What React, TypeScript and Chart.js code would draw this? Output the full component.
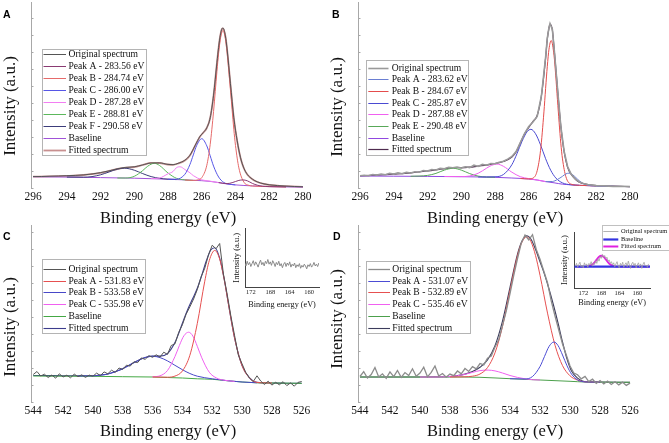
import React, { useEffect, useRef } from "react";
import { Chart, registerables } from "chart.js";
Chart.register(...registerables);

type Pt = [number, number];

const SERIF = "'Liberation Serif', 'Times New Roman', serif";
const SANS = "'Liberation Sans', Arial, sans-serif";

// ---------- tick labels ----------
const TICKS_C1S: number[] = [296, 294, 292, 290, 288, 286, 284, 282, 280];
const TICKS_O1S: number[] = [544, 542, 540, 538, 536, 534, 532, 530, 528, 526];
const TICKS_S2P: number[] = [172, 168, 164, 160];

// ---------- Panel A (C1s) ----------
const A_ORIGINAL: Pt[] = [[296,11.4],[295.5,11.5],[295,11.8],[294.5,12.0],[294,12.3],[293.5,12.6],[293,13.1],[292.5,14.0],[292,15.4],[291.5,17.1],[291,19.2],[290.5,20.6],[290,21.2],[289.5,23.1],[289,25.0],[288.5,25.1],[288,23.6],[287.7,23.3],[287.4,24.7],[287,27.8],[286.7,32.8],[286.4,42.3],[286.1,51.8],[285.9,55.6],[285.7,60.3],[285.5,70.2],[285.3,92.8],[285.1,125.3],[285.0,140.6],[284.9,152.7],[284.8,159.4],[284.74,160],[284.6,152.2],[284.5,139.2],[284.3,104.3],[284.1,70.4],[283.9,47.3],[283.7,30.2],[283.5,19.8],[283.3,13.6],[283,8.9],[282.7,6.1],[282.3,4.1],[282,3.2],[281.5,2.4],[281,1.9],[280.5,1.5],[280,1.2]];
const A_PEAK_A: Pt[] = [[285.0,5.4],[284.5,4.4],[284.2,5.3],[284.0,6.5],[283.8,7.6],[283.56,8.1],[283.3,7.2],[283.0,4.6],[282.7,2.8],[282.4,1.8],[282.0,1.4],[281.0,1.1]];
const A_PEAK_B: Pt[] = [[287.0,8.0],[286.5,7.6],[286.2,8.2],[286.0,10.3],[285.7,22.7],[285.5,43.5],[285.3,76.5],[285.1,116.6],[285.0,134.8],[284.9,148.5],[284.8,156.2],[284.74,157.4],[284.7,156.7],[284.6,149.8],[284.5,136.4],[284.3,98.3],[284.1,58.8],[284.0,42.6],[283.8,20.1],[283.5,5.8],[283.2,2.6],[283.0,2.0],[282.0,1.4],[281.0,1.1]];
const A_PEAK_C: Pt[] = [[288.0,8.7],[287.5,8.8],[287.0,13.7],[286.7,23.5],[286.5,33.1],[286.3,42.5],[286.0,49.3],[285.7,42.1],[285.5,32.2],[285.3,21.9],[285.0,11.0],[284.7,5.6],[284.5,4.2],[284.0,3.1]];
const A_PEAK_D: Pt[] = [[289.0,9.4],[288.5,10.0],[288.0,14.2],[287.7,16.5],[287.5,20.3],[287.28,21.2],[287.0,18.5],[286.7,15.2],[286.5,12.4],[286.0,8.2],[285.5,6.8],[285.0,5.4]];
const A_PEAK_E: Pt[] = [[291.0,10.0],[290.5,10.0],[290.0,11.7],[289.5,17.4],[289.2,21.8],[288.81,24.7],[288.5,22.5],[288.0,15.0],[287.5,9.7],[287.0,8.1],[286.5,7.6]];
const A_PEAK_F: Pt[] = [[294.0,10.9],[293.0,10.8],[292.5,11.4],[292.0,13.2],[291.5,16.0],[291.0,18.9],[290.58,19.8],[290.0,17.8],[289.5,14.4],[289.0,11.4],[288.5,9.7],[288.0,8.8],[287.5,8.4]];
const A_BASELINE: Pt[] = [[296,11.3],[294,10.9],[292,10.4],[290,9.8],[288,8.8],[287,8.1],[286,7.3],[285.5,6.6],[285,5.4],[284.5,4.0],[284,3.1],[283,2.1],[282,1.4],[280,1.0]];
const A_FITTED: Pt[] = [[296,11.3],[295,11.6],[294,12.1],[293,13.0],[292.5,14.0],[292,15.2],[291.5,17.0],[291,19.0],[290.5,20.4],[290,21.0],[289.5,23.0],[289,25.2],[288.5,25.0],[288,23.5],[287.7,23.2],[287.4,24.5],[287,27.5],[286.7,32.5],[286.4,42.0],[286.1,51.5],[285.9,55.5],[285.7,60],[285.5,70],[285.3,92.5],[285.1,125],[285,140.5],[284.9,152.5],[284.8,159],[284.74,159.5],[284.6,152],[284.5,139],[284.3,104],[284.1,70],[283.9,47],[283.7,30],[283.5,19.5],[283.3,13.5],[283,8.8],[282.7,6],[282.3,4],[282,3.1],[281,1.8],[280,1.2]];

// ---------- Panel B (C1s) ----------
const B_ORIGINAL: Pt[] = [[296,12.2],[295.75,12.8],[295.5,12.3],[295.25,13.5],[295,12.9],[294.75,14.0],[294.5,13.2],[294.25,14.6],[294,13.9],[293.75,15.1],[293.5,14.3],[293.25,15.6],[293,15.0],[292.75,16.3],[292.5,15.8],[292.25,17.4],[292,16.9],[291.75,18.5],[291.5,18.0],[291.25,19.6],[291,19.3],[290.75,20.8],[290.5,20.2],[290.25,21.0],[290,19.9],[289.75,21.2],[289.5,20.4],[289.25,22.8],[289,21.5],[288.75,23.6],[288.5,22.8],[288.25,24.4],[288,24.2],[287.75,25.8],[287.5,26.8],[287.25,28.9],[287,31.5],[286.75,36.4],[286.5,45.3],[286.25,54.5],[286,61.5],[285.75,66.0],[285.5,71.5],[285.25,92],[285.0,131],[284.9,150],[284.8,160.5],[284.74,164.5],[284.6,158.5],[284.5,140.5],[284.3,100.5],[284.1,62],[283.9,36.5],[283.7,21.5],[283.5,14.3],[283.25,9.2],[283.0,6.0],[282.75,4.6],[282.5,3.5],[282.25,3.0],[282,2.4],[281.5,2.1],[281,1.6],[280.5,1.7],[280,1.4]];
const B_PEAK_A: Pt[] = [[285.0,6.4],[284.6,6.5],[284.3,8.5],[284.0,11.7],[283.8,14.1],[283.62,14.8],[283.4,13.3],[283.2,10.3],[283.0,7.2],[282.7,3.9],[282.3,2.2],[282.0,2.0],[281.0,1.7]];
const B_PEAK_B: Pt[] = [[286.5,9.5],[286.0,9.1],[285.7,10.4],[285.5,17.3],[285.3,37.6],[285.1,76.1],[285.0,99.6],[284.9,121.7],[284.8,138.8],[284.67,147.5],[284.5,132.2],[284.4,112.2],[284.3,88.4],[284.1,44.8],[284.0,29.1],[283.8,11.3],[283.5,3.9],[283.0,2.7],[282.0,2.0]];
const B_PEAK_C: Pt[] = [[289.0,11.0],[288.0,11.2],[287.5,13.5],[287.0,23.3],[286.7,34.2],[286.4,46.6],[286.1,56.2],[285.87,58.7],[285.6,54.3],[285.3,43.1],[285.0,29.3],[284.7,17.8],[284.4,10.1],[284.0,5.1],[283.5,3.2],[283.0,2.7]];
const B_PEAK_D: Pt[] = [[291.0,11.5],[290.0,11.4],[289.5,12.0],[289.0,14.7],[288.5,19.8],[288.2,22.7],[287.88,23.9],[287.5,21.7],[287.0,15.8],[286.5,11.3],[286.0,9.4],[285.5,8.0],[285.0,6.4]];
const B_PEAK_E: Pt[] = [[293.0,11.7],[292.0,12.6],[291.5,14.6],[291.0,17.9],[290.48,19.7],[290.0,17.9],[289.5,14.4],[289.0,11.9],[288.5,10.9],[288.0,10.7]];
const B_BASELINE: Pt[] = [[296,12.0],[294,11.8],[292,11.6],[290,11.3],[288,10.7],[287,10.0],[286,9.0],[285.5,8.0],[285,6.4],[284.5,5.2],[284,3.8],[283.5,3.2],[283,2.7],[282,2.0],[280,1.4]];
const B_FITTED: Pt[] = [[296,12.0],[295,12.9],[294,13.9],[293,15.1],[292,17.0],[291,19.4],[290.5,20.3],[290,20.3],[289.5,20.8],[289,21.9],[288.5,22.9],[288,24.5],[287.5,26.5],[287,31.0],[286.75,36],[286.5,45],[286.25,54],[286,60.5],[285.75,66.5],[285.5,72.5],[285.25,92],[285.0,130],[284.9,149],[284.8,160],[284.74,164],[284.6,158],[284.5,140],[284.3,100],[284.1,62],[283.9,36],[283.7,21],[283.5,14],[283.2,8.2],[283.0,5.8],[282.5,3.4],[282,2.4],[281,1.8],[280,1.4]];

// ---------- Panel C (O1s) ----------
const C_ORIGINAL: Pt[] = [[544,27.5],[543.75,30.5],[543.5,26.0],[543.25,27.8],[543,24.5],[542.75,27.0],[542.5,23.8],[542.25,28.2],[542,25.0],[541.75,26.8],[541.5,24.2],[541.25,27.9],[541,25.3],[540.75,27.2],[540.5,24.6],[540.25,26.9],[540,25.8],[539.75,28.9],[539.5,26.4],[539.25,30.1],[539,28.2],[538.75,31.8],[538.5,29.5],[538.25,34.0],[538,32.6],[537.75,36.8],[537.5,35.9],[537.25,40.2],[537,39.4],[536.75,44.1],[536.5,42.6],[536.25,46.3],[536,44.7],[535.75,47.2],[535.5,44.9],[535.25,49.8],[535,47.6],[534.75,56.5],[534.5,58.1],[534.25,69.5],[534,77.2],[533.75,87.8],[533.5,95.1],[533.25,103.0],[533,112.5],[532.75,124.9],[532.5,133.8],[532.25,147.1],[532,156.8],[531.75,153.2],[531.5,158.5],[531.25,128.0],[531,108.0],[530.75,86.0],[530.5,66.4],[530.25,47.0],[530,38.2],[529.75,29.5],[529.5,24.0],[529.25,20.4],[529,26.2],[528.75,21.0],[528.5,17.5],[528.25,20.8],[528,16.9],[527.75,19.7],[527.5,17.2],[527.25,20.3],[527,16.4],[526.75,19.1],[526.5,15.8],[526.25,19.6],[526,20.5]];
const C_PEAK_A: Pt[] = [[536,25.0],[535,24.8],[534.5,25.9],[534,31.0],[533.5,46.7],[533,78.6],[532.5,120.8],[532.2,141.3],[531.83,151.6],[531.5,142.9],[531.2,122.8],[530.9,96.9],[530.5,63.9],[530,36.4],[529.5,24.1],[529,19.6],[528.5,19.2],[528,19.0]];
const C_PEAK_B: Pt[] = [[536,25.2],[535.5,26.2],[535,31.5],[534.5,45.4],[534.2,56.6],[533.9,66.2],[533.58,69.8],[533.3,66.0],[533,55.7],[532.7,44.2],[532.2,29.8],[531.7,23.9],[531.2,21.8],[530.5,20.6]];
const C_PEAK_C: Pt[] = [[541,26.0],[540,26.2],[539,28.0],[538,33.3],[537.5,37.3],[537,41.3],[536.5,44.4],[535.98,45.7],[535.5,44.4],[535,41.1],[534.5,36.7],[534,32.3],[533.5,28.5],[533,25.8],[532,23.2],[531,21.3],[530,20.0],[529,19.2]];
const C_BASELINE: Pt[] = [[544,26.0],[540,25.7],[538,25.3],[536,25.0],[535,24.5],[534,24.0],[533,23.2],[532,22.7],[531,21.3],[530,20.0],[529,19.2],[528,19.0],[526,18.7]];
const C_FITTED: Pt[] = [[544,26.5],[543,26.4],[542,26.3],[541,26.3],[540,26.2],[539.5,27.0],[539,28.0],[538.5,30.4],[538,33.3],[537.5,37.3],[537,41.3],[536.5,44.5],[536,45.9],[535.5,45.9],[535,48.4],[534.5,59.4],[534.2,70.5],[533.9,82.9],[533.6,94.0],[533.3,103.7],[533,113.7],[532.7,126.8],[532.4,141],[532.1,152],[531.83,154.3],[531.5,143.8],[531.2,123],[530.9,96.9],[530.5,63.9],[530,36.4],[529.5,24.1],[529,19.6],[528,19.0],[527,18.8],[526,18.7]];

// ---------- Panel D (O1s) ----------
const D_ORIGINAL: Pt[] = [[544,25.5],[543.75,30.3],[543.5,24.0],[543.25,27.5],[543,34.5],[542.75,25.0],[542.5,28.2],[542.25,23.7],[542,30.1],[541.75,25.3],[541.5,31.5],[541.25,24.6],[541,29.4],[540.75,26.5],[540.5,33.2],[540.25,25.8],[540,28.9],[539.75,34.8],[539.5,25.2],[539.25,29.6],[539,36.1],[538.75,26.0],[538.5,28.5],[538.25,24.9],[538,27.9],[537.75,26.4],[537.5,31.0],[537.25,28.2],[537,33.5],[536.75,30.6],[536.5,35.4],[536.25,33.2],[536,38.5],[535.75,37.1],[535.5,43.8],[535.25,45.9],[535,55.0],[534.75,62.3],[534.5,76.5],[534.25,91.0],[534,108.4],[533.75,126.7],[533.5,143.5],[533.25,158.8],[533,167.0],[532.75,162.2],[532.5,167.3],[532.25,152.6],[532,142.8],[531.75,131.0],[531.5,119.3],[531.25,101.0],[531,86.0],[530.75,72.0],[530.5,58.0],[530.25,47.0],[530,36.0],[529.75,29.0],[529.5,27.3],[529.25,23.1],[529,25.6],[528.75,20.4],[528.5,22.8],[528.25,18.6],[528,21.5],[527.75,18.0],[527.5,20.9],[527.25,17.5],[527,20.2],[526.75,17.1],[526.5,19.8],[526.25,16.6],[526,18.9]];
const D_PEAK_A: Pt[] = [[534,23.3],[533,23.0],[532.5,25.5],[532,35.5],[531.7,45.6],[531.4,55.5],[531.07,60.0],[530.8,56.5],[530.5,47.0],[530.2,36.2],[529.9,27.9],[529.5,22.2],[529,20.1],[528,19.9]];
const D_PEAK_B: Pt[] = [[538,25.0],[537,25.2],[536.5,25.8],[536,28.0],[535.5,34.4],[535,49.2],[534.5,75.6],[534,111.5],[533.5,146.3],[533.2,160.0],[532.89,165.1],[532.6,160.3],[532.3,146.6],[532,126.7],[531.5,88.9],[531,56.8],[530.5,36.4],[530,26.2],[529.5,21.9],[529,20.2],[528,19.9]];
const D_PEAK_C: Pt[] = [[540,25.0],[539,25.0],[538,25.5],[537.5,26.3],[537,27.7],[536.5,29.6],[536,31.4],[535.46,31.9],[535,31.1],[534.5,29.0],[534,26.5],[533.5,24.6],[533,23.2],[532.5,22.3],[532,22.0]];
const D_BASELINE: Pt[] = [[544,25.0],[538,25.0],[536,24.7],[534,23.3],[532,22.0],[530,20.7],[529,20.0],[526,19.7]];
const D_FITTED: Pt[] = [[544,25.0],[540,25.0],[539,25.1],[538,25.5],[537.5,26.4],[537,27.9],[536.5,30.5],[536,34.7],[535.5,42.1],[535,56.3],[534.5,80.9],[534,114.7],[533.5,147.9],[533.2,161],[532.89,166.3],[532.6,162.8],[532.3,152.7],[532,140.2],[531.7,127.7],[531.4,113],[531.07,95],[530.8,79],[530.5,60],[530.2,43],[529.9,31],[529.5,23.8],[529,20.3],[528,20.0],[526,19.7]];

// ---------- Insets (S2p) ----------
const C_INSET_ORIGINAL: Pt[] = [[173.25,41],[173,36],[172.75,44],[172.5,38],[172.25,42],[172,35],[171.75,40],[171.5,45],[171.25,37],[171,43],[170.75,39],[170.5,34],[170.25,41],[170,46],[169.75,38],[169.5,42],[169.25,36],[169,44],[168.75,40],[168.5,47],[168.25,39],[168,43],[167.75,37],[167.5,45],[167.25,41],[167,35],[166.75,42],[166.5,38],[166.25,44],[166,36],[165.75,40],[165.5,33],[165.25,39],[165,42],[164.75,35],[164.5,41],[164.25,37],[164,43],[163.75,34],[163.5,39],[163.25,36],[163,41],[162.75,33],[162.5,38],[162.25,35],[162,40],[161.75,32],[161.5,37],[161.25,34],[161,39],[160.75,36],[160.5,31],[160.25,38],[160,35],[159.75,40],[159.5,34],[159.25,37],[159,42],[158.75,36],[158.5,39],[158.25,35],[158,41]];
const D_INSET_ORIGINAL: Pt[] = [[173.75,39],[173.5,44],[173.25,37],[173,42],[172.75,46],[172.5,38],[172.25,41],[172,36],[171.75,45],[171.5,40],[171.25,43],[171,37],[170.75,44],[170.5,41],[170.25,47],[170,39],[169.75,45],[169.5,42],[169.25,49],[169,44],[168.75,52],[168.5,48],[168.25,56],[168,53],[167.75,60],[167.5,55],[167.25,58],[167,52],[166.75,55],[166.5,48],[166.25,50],[166,44],[165.75,47],[165.5,41],[165.25,45],[165,38],[164.75,43],[164.5,47],[164.25,39],[164,36],[163.75,44],[163.5,40],[163.25,46],[163,37],[162.75,42],[162.5,45],[162.25,38],[162,48],[161.75,41],[161.5,35],[161.25,43],[161,46],[160.75,39],[160.5,44],[160.25,36],[160,41],[159.75,45],[159.5,38],[159.25,43],[159,35],[158.75,42],[158.5,46],[158.25,39],[158,41],[157.75,37],[157.5,43]];
const D_INSET_BASELINE: Pt[] = [[174,38.2],[157.2,38.2]];
const D_INSET_FITTED: Pt[] = [[173.5,38.2],[172,38.2],[171,38.7],[170.5,39.7],[170,41.9],[169.5,45.9],[169,51],[168.5,55.7],[168,57.6],[167.5,55.7],[167,51],[166.5,45.9],[166,41.9],[165.5,39.7],[165,38.7],[164,38.2],[157.2,38.2]];

// ---------- helpers ----------
const toXY = (a: Pt[]) => a.map(([x, y]) => ({ x, y }));

function line(label: string, data: Pt[], color: string, width = 1, extra: any = {}) {
  return {
    label,
    data: toXY(data),
    borderColor: color,
    backgroundColor: color,
    borderWidth: width,
    pointRadius: 0,
    fill: false,
    cubicInterpolationMode: "monotone",
    ...extra,
  };
}
function noisy(label: string, data: Pt[], color: string, width = 1, extra: any = {}) {
  return { ...line(label, data, color, width, extra), cubicInterpolationMode: "default", tension: 0 };
}

const boxLegendPlugin = {
  id: "boxLegend",
  afterDatasetsDraw(chart: any, _args: any, opts: any) {
    if (!opts || !opts.display) return;
    const ctx = chart.ctx;
    ctx.save();
    ctx.fillStyle = "#ffffff";
    ctx.fillRect(opts.x, opts.y, opts.w, opts.h);
    ctx.strokeStyle = opts.borderColor;
    ctx.lineWidth = 1;
    ctx.strokeRect(Math.round(opts.x) + 0.5, Math.round(opts.y) + 0.5, Math.round(opts.w), Math.round(opts.h));
    ctx.font = `${opts.fontSize}px ${SERIF}`;
    ctx.textBaseline = "middle";
    ctx.textAlign = "left";
    let i = 0;
    chart.data.datasets.forEach((ds: any) => {
      if (!ds.label) return;
      const cy = opts.firstRow + i * opts.rowH;
      ctx.strokeStyle = ds.legendColor || ds.borderColor;
      ctx.lineWidth = ds.legendWidth || ds.borderWidth;
      ctx.beginPath();
      ctx.moveTo(opts.lineX1, Math.round(cy) + 0.5);
      ctx.lineTo(opts.lineX2, Math.round(cy) + 0.5);
      ctx.stroke();
      ctx.fillStyle = "#111";
      ctx.fillText(ds.label, opts.textX, cy + 0.5);
      i++;
    });
    ctx.restore();
  },
};

const decorPlugin = {
  id: "decor",
  afterDraw(chart: any, _args: any, opts: any) {
    if (!opts) return;
    const ctx = chart.ctx;
    ctx.save();
    if (opts.innerTicks) {
      const ys = chart.scales.y;
      const left = chart.chartArea.left;
      ctx.strokeStyle = "#a8a8a8";
      ctx.lineWidth = 1;
      ys.ticks.forEach((t: any) => {
        const py = Math.round(ys.getPixelForValue(t.value)) + 0.5;
        ctx.beginPath();
        ctx.moveTo(left, py);
        ctx.lineTo(left + 2.5, py);
        ctx.stroke();
      });
    }
    if (opts.ytitle) {
      ctx.save();
      ctx.translate(opts.tx, opts.ty);
      ctx.rotate(-Math.PI / 2);
      ctx.font = `17px ${SERIF}`;
      ctx.fillStyle = "#111";
      ctx.textAlign = "center";
      ctx.textBaseline = "middle";
      ctx.fillText(opts.ytitle, 0, 0);
      ctx.restore();
    }
    if (opts.letter) {
      ctx.font = `bold 10.5px ${SANS}`;
      ctx.fillStyle = "#000";
      ctx.textBaseline = "middle";
      ctx.textAlign = "left";
      ctx.fillText(opts.letter, opts.lx, opts.ly);
    }
    ctx.restore();
  },
};

function mainConfig(p: any) {
  return {
    type: "line",
    data: { datasets: p.datasets },
    plugins: [boxLegendPlugin, decorPlugin],
    options: {
      responsive: false,
      animation: false,
      events: [],
      layout: { padding: { top: p.padTop, right: p.padRight, left: 0, bottom: 0 } },
      plugins: {
        legend: { display: false },
        tooltip: { enabled: false },
        boxLegend: p.legend,
        decor: { innerTicks: true, letter: p.letter, lx: p.lx, ly: p.ly, ytitle: "Intensity (a.u.)", tx: 10.2, ty: p.ty },
      },
      scales: {
        x: {
          type: "linear",
          reverse: true,
          min: p.xmin,
          max: p.xmax,
          afterBuildTicks: (s: any) => {
            s.ticks = p.ticks.map((v: number) => ({ value: v }));
          },
          afterFit: (s: any) => {
            s.height = p.bottomH;
          },
          ticks: {
            font: { family: SERIF, size: 11.5 },
            color: "#111",
            padding: 2.5,
            autoSkip: false,
            maxRotation: 0,
            callback: (v: any) => String(v),
          },
          grid: { display: false, drawTicks: false },
          border: { display: false },
          title: { display: true, text: "Binding energy (eV)", font: { family: SERIF, size: 16.5 }, color: "#111", padding: 0 },
        },
        y: {
          type: "linear",
          min: 0,
          max: p.ymax,
          afterFit: (s: any) => {
            s.width = p.leftW;
          },
          ticks: { display: false, stepSize: 17, includeBounds: false },
          grid: { display: false, drawTicks: false },
          border: { display: true, color: "#a8a8a8", width: 1 },
          title: { display: false },
        },
      },
    },
  };
}

function insetConfig(p: any) {
  return {
    type: "line",
    data: { datasets: p.datasets },
    plugins: [boxLegendPlugin],
    options: {
      responsive: false,
      animation: false,
      events: [],
      layout: { padding: { top: p.padTop, right: p.padRight, left: 0, bottom: 0 } },
      plugins: { legend: { display: false }, tooltip: { enabled: false }, boxLegend: p.legend || { display: false } },
      scales: {
        x: {
          type: "linear",
          reverse: true,
          min: p.xmin,
          max: p.xmax,
          afterBuildTicks: (s: any) => {
            s.ticks = TICKS_S2P.map((v) => ({ value: v }));
          },
          afterFit: (s: any) => {
            s.height = p.bottomH;
          },
          ticks: { font: { family: SERIF, size: 6.5 }, color: "#222", padding: 1, autoSkip: false, maxRotation: 0, callback: (v: any) => String(v) },
          grid: { display: false, drawTicks: false },
          border: { display: true, color: "#444", width: 1 },
          title: { display: true, text: "Binding energy (eV)", font: { family: SERIF, size: 8.2 }, color: "#111", padding: { top: 0, bottom: 0.4 } },
        },
        y: {
          type: "linear",
          min: 0,
          max: 100,
          afterFit: (s: any) => {
            s.width = p.leftW;
          },
          ticks: { display: false },
          grid: { display: false, drawTicks: false },
          border: { display: true, color: "#444", width: 1 },
          title: { display: true, text: "Intensity (a.u.)", font: { family: SERIF, size: 8.5 }, color: "#111", padding: { top: p.yTitlePad, bottom: 0 } },
        },
      },
    },
  };
}

function ChartBox({ left, top, width, height, makeConfig }: any) {
  const ref = useRef<HTMLCanvasElement | null>(null);
  useEffect(() => {
    const chart = new Chart(ref.current as HTMLCanvasElement, makeConfig() as any);
    return () => chart.destroy();
  }, []);
  return <canvas ref={ref} width={width} height={height} style={{ position: "absolute", left, top, width, height }} />;
}

const legendMain = (x: number, y: number, w: number, h: number, firstRow: number, rowH: number, lx1: number, lx2: number, tx: number) => ({
  display: true, x, y, w, h, firstRow, rowH, lineX1: lx1, lineX2: lx2, textX: tx, fontSize: 9.6, borderColor: "#b4b4b4",
});

export default function App() {
  return (
    <div style={{ position: "absolute", left: 0, top: 0, width: 669, height: 443, background: "#fff", overflow: "hidden" }}>
      {/* Panel A */}
      <ChartBox left={0} top={0} width={334} height={229} makeConfig={() =>
        mainConfig({
          datasets: [
            line("Original spectrum", A_ORIGINAL, "#555555", 1),
            line("Peak A - 283.56 eV", A_PEAK_A, "#8a3a72", 1),
            line("Peak B - 284.74 eV", A_PEAK_B, "#e66a6a", 1),
            line("Peak C - 286.00 eV", A_PEAK_C, "#5656e6", 1),
            line("Peak D - 287.28 eV", A_PEAK_D, "#f27ef2", 1),
            line("Peak E - 288.81 eV", A_PEAK_E, "#5cb85c", 1),
            line("Peak F - 290.58 eV", A_PEAK_F, "#3c3c7a", 1),
            line("Baseline", A_BASELINE, "#a052d8", 1),
            line("Fitted spectrum", A_FITTED, "#c89090", 1.8),
          ],
          xmin: 279.88, xmax: 296.12, ymax: 186, ticks: TICKS_C1S,
          padTop: 2, padRight: 29, leftW: 31, bottomH: 41,
          legend: legendMain(42, 48.5, 104, 106, 54.3, 11.95, 43.5, 66, 68.5),
          letter: "A", lx: 3, ly: 15, ty: 106,
        })} />
      {/* Panel B */}
      <ChartBox left={327} top={0} width={342} height={229} makeConfig={() =>
        mainConfig({
          datasets: [
            line("Original spectrum", B_ORIGINAL, "#9a9a9a", 1.6, { cubicInterpolationMode: "default", tension: 0 }),
            line("Peak A - 283.62 eV", B_PEAK_A, "#6a7ed2", 1),
            line("Peak B - 284.67 eV", B_PEAK_B, "#e44c4c", 1),
            line("Peak C - 285.87 eV", B_PEAK_C, "#4a4ad2", 1),
            line("Peak D - 287.88 eV", B_PEAK_D, "#f060f0", 1),
            line("Peak E - 290.48 eV", B_PEAK_E, "#58a858", 1),
            line("Baseline", B_BASELINE, "#9048e0", 1),
            line("Fitted spectrum", B_FITTED, "#4e2a4e", 1.2),
          ],
          xmin: 279.88, xmax: 296.12, ymax: 186, ticks: TICKS_C1S,
          padTop: 2, padRight: 37, leftW: 31, bottomH: 41,
          legend: legendMain(39, 60, 102, 95, 67.7, 11.66, 41.3, 61.5, 64.7),
          letter: "B", lx: 5, ly: 15, ty: 107,
        })} />
      {/* Panel C */}
      <ChartBox left={0} top={222} width={334} height={220} makeConfig={() =>
        mainConfig({
          datasets: [
            noisy("Original spectrum", C_ORIGINAL, "#555555", 1),
            line("Peak A - 531.83 eV", C_PEAK_A, "#e65050", 1),
            line("Peak B - 533.58 eV", C_PEAK_B, "#f060f0", 1, { legendColor: "#4848c8" }),
            line("Peak C - 535.98 eV", C_PEAK_C, "#4848c8", 1, { legendColor: "#f060f0" }),
            line("Baseline", C_BASELINE, "#44a844", 1),
            line("Fitted spectrum", C_FITTED, "#3c3c8c", 1.1),
          ],
          xmin: 525.78, xmax: 544.15, ymax: 177, ticks: TICKS_O1S,
          padTop: 3, padRight: 29, leftW: 31, bottomH: 40,
          legend: legendMain(42.3, 36.7, 103.4, 74.3, 46.7, 11.87, 43.5, 66, 68.5),
          letter: "C", lx: 3, ly: 15, ty: 105,
        })} />
      {/* Panel D */}
      <ChartBox left={327} top={222} width={342} height={220} makeConfig={() =>
        mainConfig({
          datasets: [
            noisy("Original spectrum", D_ORIGINAL, "#8c8c8c", 1.3),
            line("Peak A - 531.07 eV", D_PEAK_A, "#4c4cd4", 1),
            line("Peak B - 532.89 eV", D_PEAK_B, "#e65050", 1),
            line("Peak C - 535.46 eV", D_PEAK_C, "#f060f0", 1),
            line("Baseline", D_BASELINE, "#4ca04c", 1),
            line("Fitted spectrum", D_FITTED, "#3c3c5c", 1.1),
          ],
          xmin: 525.87, xmax: 544.13, ymax: 177, ticks: TICKS_O1S,
          padTop: 3, padRight: 37, leftW: 31, bottomH: 40,
          legend: legendMain(39, 39.3, 104, 71.7, 46.7, 11.87, 41.3, 63, 65.3),
          letter: "D", lx: 6, ly: 15, ty: 97,
        })} />
      {/* Inset in C */}
      <ChartBox left={226} top={224} width={96} height={86} makeConfig={() =>
        insetConfig({
          datasets: [noisy("", C_INSET_ORIGINAL, "#8a8a8a", 1)],
          xmin: 157.97, xmax: 173.2, padTop: 4.5, padRight: 3, leftW: 19, bottomH: 23, yTitlePad: 5.9,
        })} />
      {/* Inset in D */}
      <ChartBox left={556} top={222} width={113} height={86} makeConfig={() =>
        insetConfig({
          datasets: [
            noisy("Original spectrum", D_INSET_ORIGINAL, "#a0a0a0", 0.8),
            line("Baseline", D_INSET_BASELINE, "#3434e0", 2.2, { legendWidth: 2.2 }),
            line("Fitted spectrum", D_INSET_FITTED, "#e020e0", 1.8, { legendWidth: 2 }),
          ],
          xmin: 157.18, xmax: 174, padTop: 10, padRight: 19, leftW: 18.3, bottomH: 20, yTitlePad: 3.2,
          legend: { display: true, x: 45.7, y: 3, w: 67, h: 25, firstRow: 9.3, rowH: 7.5, lineX1: 47.3, lineX2: 62.3, textX: 65, fontSize: 6.4, borderColor: "#c0c0c0" },
        })} />
    </div>
  );
}
